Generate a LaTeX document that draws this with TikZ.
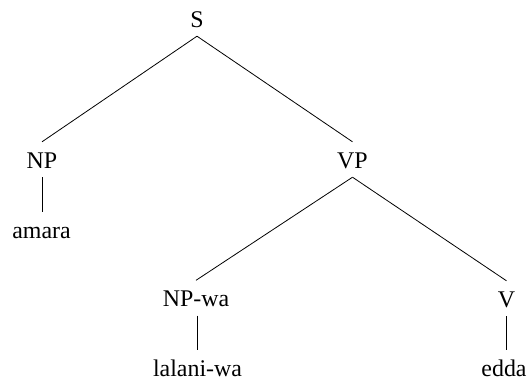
\documentclass[tikz,border=0pt]{standalone}
\usepackage{fontspec}
\setmainfont{Liberation Serif}
\begin{document}
\begin{tikzpicture}[x=1bp,y=-1bp,
  lbl/.style={anchor=base,inner xsep=0pt,inner ysep=9bp,text height=17bp,text depth=0pt,font=\fontsize{24}{28}\selectfont},
  br/.style={draw=black,line width=0.8bp}]
\useasboundingbox (0,0) rectangle (529,385);
\node[lbl] (S) at (197,27) {S};
\node[lbl] (NP) at (42,168) {NP};
\node[lbl] (VP) at (352.5,168) {VP};
\node[lbl] (amara) at (41.5,238) {amara};
\node[lbl] (NPwa) at (196,306.5) {NP-wa};
\node[lbl] (V) at (506.5,307) {V};
\node[lbl] (lalani) at (197.5,376.5) {lalani-wa};
\node[lbl] (edda) at (504,376.5) {edda};
\draw[br] (S.south) -- (NP.north);
\draw[br] (S.south) -- (VP.north);
\draw[br] (NP.south) -- (NP.south |- amara.north);
\draw[br] (VP.south) -- (NPwa.north);
\draw[br] (VP.south) -- (V.north);
\draw[br] (lalani.north |- NPwa.south) -- (lalani.north);
\draw[br] (V.south) -- (V.south |- edda.north);
\end{tikzpicture}
\end{document}
